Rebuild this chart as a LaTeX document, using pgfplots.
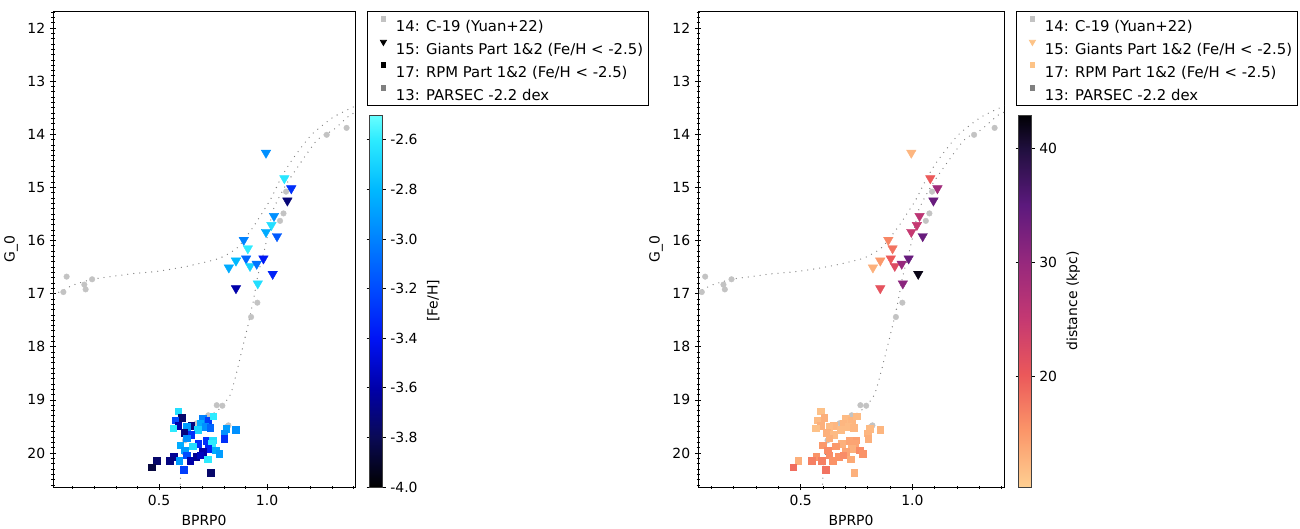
\documentclass[border=0pt]{standalone}
\usepackage{fontspec}
\setmainfont{DejaVu Sans}
\usepackage{pgfplots}
\usepackage{pgfplotstable}
\pgfplotsset{compat=1.18}
\definecolor{cgray}{RGB}{195,195,195}
\definecolor{isogray}{RGB}{125,125,125}
\definecolor{pgray}{RGB}{128,128,128}
\definecolor{lorange}{RGB}{253,195,135}

\pgfplotsset{
 colormap={fehmap}{rgb255(0pt)=(0,0,0); rgb255(2pt)=(10,10,85); rgb255(4pt)=(0,0,170); rgb255(6pt)=(0,20,245); rgb255(8pt)=(0,75,255); rgb255(10pt)=(0,130,255); rgb255(12pt)=(0,185,255); rgb255(14pt)=(45,235,255); rgb255(15pt)=(105,255,255)},
 colormap={distmap}{rgb255(0pt)=(254,207,146); rgb255(5pt)=(251,150,105); rgb255(10pt)=(235,88,90); rgb255(15pt)=(196,56,114); rgb255(20pt)=(150,40,125); rgb255(25pt)=(92,25,125); rgb255(30pt)=(32,15,62); rgb255(33pt)=(0,0,4)},
 every axis/.append style={font=\fontsize{14}{16.8}\selectfont},
 cmd/.style={
  scale only axis, height=476bp,
  y dir=reverse, ymin=11.68, ymax=20.64,
  xtick={0.5,1.0},
  minor xtick={0.1,0.2,0.3,0.4,0.6,0.7,0.8,0.9,1.1,1.2,1.3,1.4},
  ytick={12,13,14,15,16,17,18,19,20},
  minor ytick={11.7,11.8,11.9,12.1,12.2,12.3,12.4,12.5,12.6,12.7,12.8,12.9,13.1,13.2,13.3,13.4,13.5,13.6,13.7,13.8,13.9,14.1,14.2,14.3,14.4,14.5,14.6,14.7,14.8,14.9,15.1,15.2,15.3,15.4,15.5,15.6,15.7,15.8,15.9,16.1,16.2,16.3,16.4,16.5,16.6,16.7,16.8,16.9,17.1,17.2,17.3,17.4,17.5,17.6,17.7,17.8,17.9,18.1,18.2,18.3,18.4,18.5,18.6,18.7,18.8,18.9,19.1,19.2,19.3,19.4,19.5,19.6,19.7,19.8,19.9,20.1,20.2,20.3,20.4,20.5,20.6},
  xtick pos=bottom, ytick pos=left, tick align=center,
  major tick length=6bp, minor tick length=3bp,
  tick style={black, line width=0.7bp},
  axis line style={black, line width=0.8bp},
  /pgf/number format/assume math mode=true,
  xticklabel style={/pgf/number format/fixed, /pgf/number format/fixed zerofill, /pgf/number format/precision=1},
  xlabel={BPRP0}, ylabel={G\_0},
  legend style={at={(1,1)}, anchor=north west, xshift=12bp, yshift=0bp, draw=black, line width=0.8bp,
    font=\fontsize{14.9}{17}\selectfont,
    row sep=5bp, inner xsep=4bp, inner ysep=3.6bp,
    nodes={inner sep=1.5bp, text height=15bp, text depth=0bp}, cells={anchor=west}},
  legend image code/.code={\path[draw=none,fill=none] (0bp,0bp) -- (23bp,0bp); \draw[#1] plot coordinates {(12bp,5bp)};},
 },
 cbar/.style={
  colorbar,
  colorbar style={at={(parent axis.south east)}, anchor=south west, xshift=6bp,
    width=13bp, height=372bp, tick align=outside, major tick length=3bp,
    axis line style={black!75, line width=0.8bp},
    tick style={black, line width=0.7bp},
    /pgf/number format/assume math mode=true},
 },
}

\pgfplotstableread{
bp g
1.276 14.01
1.368 13.88
1.088 15.08
1.076 15.49
1.060 15.63
0.955 17.17
0.926 17.44
0.072 16.68
0.057 16.97
0.154 16.83
0.160 16.92
0.190 16.73
0.767 19.10
0.793 19.11
0.728 19.29
0.821 19.48
0.813 19.51
0.620 19.76
0.674 19.44
}\cnineteen

\pgfplotstableread{
bp g
0.009 16.99
0.028 16.99
0.102 16.84
0.190 16.73
0.259 16.69
0.366 16.63
0.491 16.58
0.611 16.50
0.690 16.43
0.782 16.33
0.861 16.14
0.935 15.75
1.014 15.24
1.060 14.86
1.106 14.54
1.167 14.20
1.213 13.98
1.306 13.68
1.398 13.49
1.450 13.40
}\agb

\pgfplotstableread{
bp g
0.597 20.70
0.600 20.40
0.606 20.14
0.625 19.76
0.667 19.53
0.722 19.34
0.782 19.16
0.829 18.91
0.856 18.53
0.884 18.06
0.912 17.59
0.935 17.16
0.958 16.65
0.991 16.12
1.028 15.43
1.074 15.05
1.116 14.77
1.231 14.11
1.306 13.92
1.384 13.64
1.450 13.52
}\rgb

\pgfplotstableread{
bp g feh dist
0.995 14.35 -2.95 12.5
1.080 14.83 -2.62 20
1.112 15.02 -3.30 29
1.094 15.25 -3.72 34
1.032 15.54 -2.95 26
1.020 15.71 -2.65 25
0.995 15.84 -2.85 25
1.046 15.92 -3.15 34
0.892 15.99 -3.00 16.5
0.911 16.15 -2.60 18
0.856 16.38 -2.80 15
0.903 16.34 -3.10 20
0.983 16.34 -3.38 34
0.823 16.51 -2.85 13
0.921 16.48 -2.70 22
0.952 16.44 -3.05 30
1.026 16.63 -3.35 42
0.957 16.81 -2.65 31
0.856 16.90 -3.60 21
}\giants

\pgfplotstableread{
bp g feh dist
0.589 19.21 -2.65 11.5
0.605 19.34 -3.75 13
0.574 19.38 -3.20 12
0.702 19.35 -3.00 12
0.728 19.38 -3.25 12.5
0.751 19.31 -2.60 12
0.690 19.44 -2.85 12.5
0.589 19.49 -3.60 13
0.566 19.53 -2.60 11.5
0.648 19.49 -3.70 12.5
0.628 19.51 -2.90 12
0.678 19.56 -2.70 12
0.713 19.51 -2.95 12
0.736 19.52 -3.10 12.5
0.617 19.62 -3.70 13
0.648 19.65 -3.30 12
0.628 19.72 -2.95 13
0.810 19.54 -2.90 12
0.856 19.56 -2.95 12.5
0.801 19.63 -2.95 12.5
0.802 19.73 -3.30 13
0.718 19.77 -3.30 14
0.749 19.76 -2.65 14.5
0.682 19.83 -3.30 13
0.597 19.85 -2.85 15
0.744 19.82 -2.60 14
0.728 19.92 -3.35 13
0.656 19.87 -2.65 15
0.702 19.98 -3.60 14
0.763 19.95 -2.85 16
0.778 20.01 -2.90 15.5
0.620 19.95 -2.90 16
0.628 20.04 -3.20 16
0.569 20.07 -3.65 15.5
0.594 20.14 -2.90 17
0.548 20.15 -3.70 17
0.489 20.15 -3.75 13
0.466 20.27 -3.85 18.5
0.644 20.14 -3.60 15.5
0.671 20.07 -3.65 15.5
0.690 20.04 -3.55 16
0.724 20.12 -2.60 13.5
0.613 20.31 -3.25 18
0.739 20.37 -3.75 13
}\rpm

\begin{document}
\fontsize{14}{16.8}\selectfont
\begin{tikzpicture}
\useasboundingbox (0,0) rectangle (1300bp,529bp);

% ---------- left panel ----------
\begin{axis}[cmd, at={(53bp,42bp)}, anchor=south west, width=302bp,
  xmin=0.009, xmax=1.407,
  colormap name=fehmap, point meta min=-4.0, point meta max=-2.5,
  cbar,
  colorbar style={ytick={-4.0,-3.8,-3.6,-3.4,-3.2,-3.0,-2.8,-2.6},
    yticklabel style={/pgf/number format/fixed, /pgf/number format/fixed zerofill, /pgf/number format/precision=1},
    ylabel={[Fe/H]}},
]
\addplot[isogray, line width=1.3bp, line cap=round, dash pattern=on 0bp off 6bp, smooth, tension=0.4, forget plot] table[x=bp,y=g] \agb;
\addplot[isogray, line width=1.3bp, line cap=round, dash pattern=on 0bp off 6bp, smooth, tension=0.4, forget plot] table[x=bp,y=g] \rgb;
\addplot[only marks, mark=*, mark size=2.8bp, color=cgray, forget plot] table[x=bp,y=g] \cnineteen;
\addplot[scatter, only marks, mark=triangle*, mark size=5.5bp, mark options={rotate=180},
  scatter src=explicit, scatter/use mapped color={draw=mapped color, fill=mapped color}, forget plot]
  table[x=bp, y=g, meta=feh] \giants;
\addplot[scatter, only marks, mark=square*, mark size=3.3bp,
  scatter src=explicit, scatter/use mapped color={draw=mapped color, fill=mapped color}, forget plot]
  table[x=bp, y=g, meta=feh] \rpm;
\addlegendimage{only marks, mark=square*, mark size=2.2bp, cgray}
\addlegendentry{14: C-19 (Yuan+22)}
\addlegendimage{only marks, mark=triangle*, mark size=3.5bp, mark options={rotate=180}, black}
\addlegendentry{15: Giants Part 1\&2 (Fe/H < -2.5)}
\addlegendimage{only marks, mark=square*, mark size=2.2bp, black}
\addlegendentry{17: RPM Part 1\&2 (Fe/H < -2.5)}
\addlegendimage{only marks, mark=square*, mark size=2.2bp, pgray}
\addlegendentry{13: PARSEC -2.2 dex}
\end{axis}

% ---------- right panel ----------
\begin{axis}[cmd, at={(698bp,42bp)}, anchor=south west, width=306bp,
  xmin=0.04, xmax=1.41,
  colormap name=distmap, point meta min=10.3, point meta max=42.9,
  cbar,
  colorbar style={ytick={20,30,40}, ylabel={distance (kpc)}},
]
\addplot[isogray, line width=1.3bp, line cap=round, dash pattern=on 0bp off 6bp, smooth, tension=0.4, forget plot] table[x=bp,y=g] \agb;
\addplot[isogray, line width=1.3bp, line cap=round, dash pattern=on 0bp off 6bp, smooth, tension=0.4, forget plot] table[x=bp,y=g] \rgb;
\addplot[only marks, mark=*, mark size=2.8bp, color=cgray, forget plot] table[x=bp,y=g] \cnineteen;
\addplot[scatter, only marks, mark=triangle*, mark size=5.5bp, mark options={rotate=180},
  scatter src=explicit, scatter/use mapped color={draw=mapped color, fill=mapped color}, forget plot]
  table[x=bp, y=g, meta=dist] \giants;
\addplot[scatter, only marks, mark=square*, mark size=3.3bp,
  scatter src=explicit, scatter/use mapped color={draw=mapped color, fill=mapped color}, forget plot]
  table[x=bp, y=g, meta=dist] \rpm;
\addlegendimage{only marks, mark=square*, mark size=2.2bp, cgray}
\addlegendentry{14: C-19 (Yuan+22)}
\addlegendimage{only marks, mark=triangle*, mark size=3.5bp, mark options={rotate=180}, lorange}
\addlegendentry{15: Giants Part 1\&2 (Fe/H < -2.5)}
\addlegendimage{only marks, mark=square*, mark size=2.2bp, lorange}
\addlegendentry{17: RPM Part 1\&2 (Fe/H < -2.5)}
\addlegendimage{only marks, mark=square*, mark size=2.2bp, pgray}
\addlegendentry{13: PARSEC -2.2 dex}
\end{axis}
\end{tikzpicture}
\end{document}
